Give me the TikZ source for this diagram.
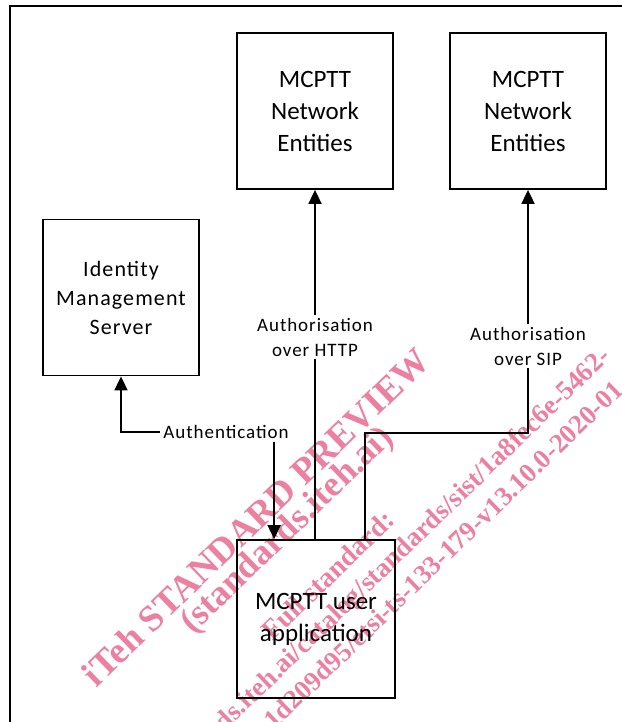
\documentclass[tikz,border=0pt]{standalone}
\usepackage{fontspec}
\setmainfont{Carlito}
\newfontfamily\lblfont[LetterSpace=5]{Carlito}
\newfontfamily\wmfont{Liberation Serif}
\usetikzlibrary{arrows.meta,calc}
\definecolor{wmpink}{RGB}{236,128,160}
\begin{document}
\begin{tikzpicture}[x=1pt,y=-1pt,
  box/.style={draw,line width=1.8pt,minimum width=156pt,minimum height=156pt,inner sep=0pt,align=center,font=\fontsize{25}{32}\selectfont},
  lbl/.style={align=center,font=\lblfont\fontsize{19}{25}\selectfont,inner sep=3pt},
  arr/.style={line width=1.8pt,-{Triangle[length=14pt,width=13pt]}},
  con/.style={line width=1.8pt},
  wm/.style={text=wmpink,font=\wmfont\bfseries,rotate=44,inner sep=0pt}]
\useasboundingbox (0,0) rectangle (621,722);
% watermark
\node[wm,font=\wmfont\bfseries\fontsize{37}{40}\selectfont] (wm1) at (256,517) {iTeh STANDARD PREVIEW};
\node[wm,font=\wmfont\bfseries\fontsize{36}{40}\selectfont] (wm2) at (288,531) {(standards.iteh.ai)};
\node[wm,font=\wmfont\bfseries\fontsize{28}{32}\selectfont] (wm3) at (328,575) {Full standard:};
\node[wm,font=\wmfont\bfseries\fontsize{27}{32}\selectfont,anchor=base east] (wm4) at (612,358) {https://standards.iteh.ai/catalog/standards/sist/1a8fec6e-5462-};
\node[wm,font=\wmfont\bfseries\fontsize{27}{32}\selectfont,anchor=base east] (wm5) at (625,392) {1d209d95/etsi-ts-133-179-v13.10.0-2020-01};
% frame
\draw[con] (10,740) -- (10,6) -- (640,6);
% boxes
\node[box] (ne1) at (315,111) {MCPTT\\Network\\Entities};
\node[box] (ne2) at (528,111) {MCPTT\\Network\\Entities};
\node[box,font=\lblfont\fontsize{22}{29}\selectfont] (ims) at (121,297.5) {Identity\\Management\\Server};
\node[box,minimum width=158pt,minimum height=158pt] (app) at (316,619) {MCPTT user\\application};
% labels
\node[lbl] (http) at (315,337) {Authorisation\\over HTTP};
\node[lbl] (sip) at (528,346) {Authorisation\\over SIP};
\node[lbl] (auth) at (226,432) {Authentication};
% connectors
\draw[arr] (http.north) -- (ne1.south);
\draw[con] (app.north -| http.south) -- (http.south);
\draw[arr] (sip.north) -- (ne2.south);
\coordinate (sipb) at (365,433);
\draw[con] (app.north -| sipb) -- (sipb) -| (sip.south);
\draw[arr] (auth.west) -| (ims.south);
\coordinate (apptap) at ($(app.north west)+(38,0)$);
\draw[arr] (auth.south -| apptap) -- (apptap);
\end{tikzpicture}
\end{document}
